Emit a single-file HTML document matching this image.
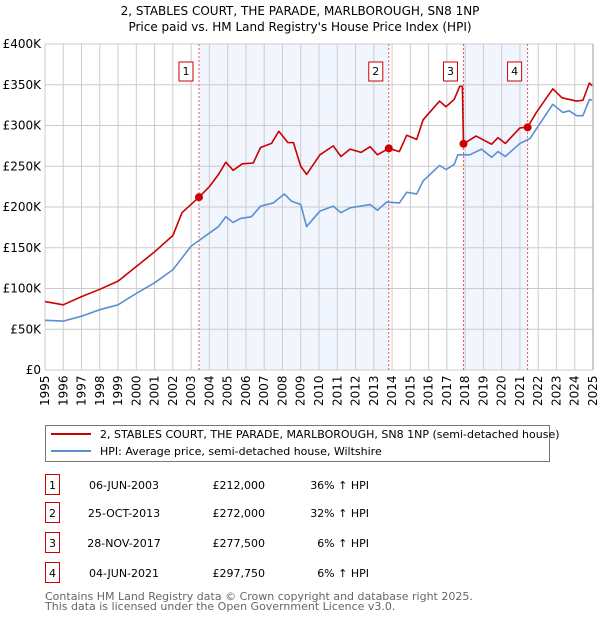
<!DOCTYPE html>
<html><head><meta charset="utf-8">
<style>
body{margin:0;background:#fff;font-family:"Liberation Sans","DejaVu Sans",sans-serif;}
#wrap{position:relative;width:600px;height:620px;overflow:hidden;}
svg text{font-family:"DejaVu Sans","Liberation Sans",sans-serif;}
</style></head>
<body><div id="wrap">
<svg id="svg" width="600" height="620">
<text x="300" y="15" text-anchor="middle" font-size="12">2, STABLES COURT, THE PARADE, MARLBOROUGH, SN8 1NP</text>
<text x="300" y="31" text-anchor="middle" font-size="12">Price paid vs. HM Land Registry's House Price Index (HPI)</text>
</svg>
</div>
<script>
const yearTicks=[1995,1996,1997,1998,1999,2000,2001,2002,2003,2004,2005,2006,2007,2008,2009,2010,2011,2012,2013,2014,2015,2016,2017,2018,2019,2020,2021,2022,2023,2024,2025];
const valueTicks=[0,50,100,150,200,250,300,350,400];
const valueTickLabels=["£0","£50K","£100K","£150K","£200K","£250K","£300K","£350K","£400K"];
const hpiYears=[1995,1996,1997,1998,1999,2000,2001,2002,2003,2003.5,2004,2004.5,2004.9,2005.3,2005.7,2006.3,2006.8,2007.5,2008.1,2008.5,2009,2009.32,2010.05,2010.78,2011.2,2011.7,2012.8,2013.2,2013.7,2014.4,2014.8,2015.35,2015.7,2016.6,2016.95,2017.4,2017.6,2018.25,2018.9,2019.45,2019.8,2020.2,2021.0,2021.55,2021.9,2022.8,2023.35,2023.7,2024.1,2024.45,2024.8,2024.95];
const hpiValues=[61,60,66,74,80,94,107,123,152,160,168,176,188,181,186,188,201,205,216,207,203,176,195,201,193,199,203,196,206,205,218,216,232,251,246,252,264,264,271,261,268,262,278,284,296,326,316,318,312,312,332,331];
const priceYears=[1995,1996,1997,1998,1999,2000,2001,2002,2002.5,2003.43,2004,2004.5,2004.9,2005.3,2005.8,2006.4,2006.8,2007.4,2007.8,2008.3,2008.6,2009,2009.32,2010.05,2010.78,2011.2,2011.7,2012.3,2012.8,2013.2,2013.82,2014.4,2014.8,2015.35,2015.7,2016.6,2016.95,2017.4,2017.7,2017.85,2017.91,2018.6,2019.45,2019.8,2020.2,2021.0,2021.42,2021.9,2022.8,2023.3,2023.7,2024.1,2024.45,2024.8,2024.95];
const priceValues=[84,80,90,99,109,127,145,165,193,212,225,240,255,245,253,254,273,278,293,279,279,250,240,264,275,262,271,267,274,264,272,268,288,283,307,330,323,332,348,348,277.5,287,277,285,278,297,298,316,345,334,332,330,331,352,349];
const saleLabels=["1","2","3","4"];
const saleYears=[2003.43,2013.82,2017.91,2021.42];
const saleValues=[212,272,277.5,297.75];
const saleDates=["06-JUN-2003","25-OCT-2013","28-NOV-2017","04-JUN-2021"];
const salePrices=["£212,000","£272,000","£277,500","£297,750"];
const saleHpi=["36% ↑ HPI","32% ↑ HPI","6% ↑ HPI","6% ↑ HPI"];

const NS="http://www.w3.org/2000/svg";
const svg=document.getElementById('svg');
const X0=45,X1=593,Y0=370,Y1=44;
const xs=y=>X0+(y-1995)/30*(X1-X0);
const ys=v=>Y0-v/400*(Y0-Y1);
function mk(tag,attrs,parent){const e=document.createElementNS(NS,tag);for(const k in attrs)e.setAttribute(k,attrs[k]);(parent||svg).appendChild(e);return e;}

for(const [a,b] of [[0,1],[2,3]]){
  const r=mk('rect',{x:xs(saleYears[a]),y:Y1,width:xs(saleYears[b])-xs(saleYears[a]),height:Y0-Y1,fill:'#eef3fc',opacity:0.8});
  
  
}
yearTicks.forEach(t=>{
  const l=mk('line',{x1:xs(t),x2:xs(t),y1:Y1,y2:Y0,stroke:'#cccccc','stroke-width':1});
  
  
  const tx=mk('text',{x:0,y:0,'font-size':12,transform:`translate(${xs(t)+4},406) rotate(-90)`});
  tx.textContent=t;
  
  
});
valueTicks.forEach((v,i)=>{
  const l=mk('line',{x1:X0,x2:X1,y1:ys(v),y2:ys(v),stroke:'#cccccc','stroke-width':1});
  
  
  const tx=mk('text',{x:X0-4,y:ys(v)+4,'font-size':12,'text-anchor':'end'});
  tx.textContent=valueTickLabels[i];
  
  
});
saleYears.forEach((y,i)=>{
  const l=mk('line',{x1:xs(y),x2:xs(y),y1:Y1,y2:Y0,stroke:'#ee5555','stroke-width':1,'stroke-dasharray':'2,2'});
  
  
  const g=mk('g',{});
  
  
  mk('rect',{x:xs(y)-20,y:62,width:14,height:19,fill:'#fff',stroke:'#cc0000','stroke-width':1},g);
  const t=mk('text',{x:xs(y)-13,y:75,'font-size':11,'text-anchor':'middle'},g);
  t.textContent=saleLabels[i];
});
function line(xa,va,color,name){
  const p=mk('polyline',{points:xa.map((x,i)=>xs(x)+','+ys(va[i])).join(' '),fill:'none',stroke:color,'stroke-width':1.6,'stroke-linejoin':'round'});
  
  
}
line(hpiYears,hpiValues,'#5b8fd4','hpi-line');
line(priceYears,priceValues,'#cc0000','price-paid-line');
saleYears.forEach((y,i)=>{
  const c=mk('circle',{cx:xs(y),cy:ys(saleValues[i]),r:4,fill:'#cc0000'});
  
  
});
mk('line',{x1:X1,x2:X1,y1:Y1,y2:Y0,stroke:'#999','stroke-width':1});

const lg=mk('g',{});


mk('rect',{x:45.5,y:425.5,width:504,height:36,fill:'#fff',stroke:'#777'},lg);
mk('line',{x1:51,x2:91,y1:434,y2:434,stroke:'#cc0000','stroke-width':2},lg);
mk('line',{x1:51,x2:91,y1:451,y2:451,stroke:'#5b8fd4','stroke-width':2},lg);
const l1=mk('text',{x:100,y:438,'font-size':11},lg);l1.textContent='2, STABLES COURT, THE PARADE, MARLBOROUGH, SN8 1NP (semi-detached house)';


const l2=mk('text',{x:100,y:455,'font-size':11},lg);l2.textContent='HPI: Average price, semi-detached house, Wiltshire';



const rowY=[485,513,543,573];
saleLabels.forEach((s,i)=>{
  const g=mk('g',{});
  
  
  const y=rowY[i];
  mk('rect',{x:45.5,y:y-10.5,width:14,height:20,fill:'#fff',stroke:'#cc0000'},g);
  let t=mk('text',{x:52.5,y:y+4,'font-size':11,'text-anchor':'middle'},g);t.textContent=s;
  t=mk('text',{x:124,y:y+4,'font-size':11,'text-anchor':'middle'},g);t.textContent=saleDates[i];
  t=mk('text',{x:265,y:y+4,'font-size':11,'text-anchor':'end'},g);t.textContent=salePrices[i];
  t=mk('text',{x:369,y:y+4,'font-size':11,'text-anchor':'end'},g);t.textContent=saleHpi[i];
});
const f1=mk('text',{x:45,y:600,'font-size':11,fill:'#666'});f1.textContent='Contains HM Land Registry data © Crown copyright and database right 2025.';


const f2=mk('text',{x:45,y:610,'font-size':11,fill:'#666'});f2.textContent='This data is licensed under the Open Government Licence v3.0.';


</script>
</body></html>
